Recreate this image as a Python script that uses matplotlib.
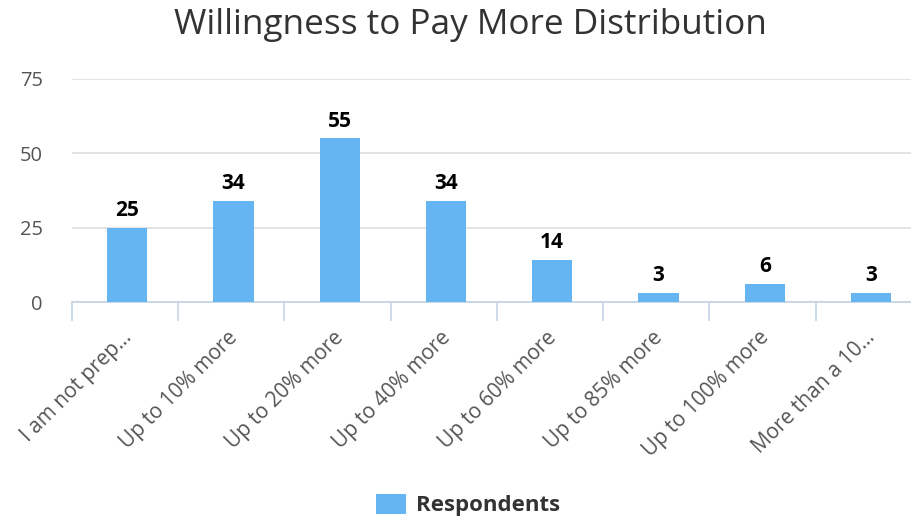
import numpy as np
import matplotlib.pyplot as plt
from matplotlib.patches import Patch

categories = ["I am not prep…", "Up to 10% more", "Up to 20% more", "Up to 40% more",
              "Up to 60% more", "Up to 85% more", "Up to 100% more", "More than a 10…"]
respondents = [25, 34, 55, 34, 14, 3, 6, 3]
y_ticks = [0, 25, 50, 75]

bar_color = "#64b5f1"
plt.rcParams["font.family"] = ["Open Sans", "DejaVu Sans"]

fig = plt.figure(figsize=(9.12, 5.19), dpi=100)
ax = fig.add_axes([72 / 912, 1 - 302 / 519, 850 / 912, 223 / 519])

x = np.arange(len(categories))
ax.bar(x + 0.02, respondents, width=0.38, color=bar_color, zorder=3)
for xi, v in zip(x, respondents):
    ax.text(xi + 0.02, v + 4.0, str(v), ha="center", va="baseline", fontsize=15,
            fontweight="bold", color="#000000")

ax.set_xlim(-0.5, len(categories) - 0.5)
ax.set_ylim(0, 75)
ax.set_yticks(y_ticks)
ax.tick_params(axis="y", length=0, pad=21, labelsize=14.5, labelcolor="#555555")
ax.grid(axis="y", color="#e0e0e0", linewidth=1.3, zorder=0)

ax.set_xticks(x - 0.04)
ax.set_xticklabels(categories, rotation=45, ha="right", rotation_mode="anchor",
                   fontsize=15, color="#555555")
ax.set_xticks(np.arange(-0.5, len(categories), 1.0), minor=True)
ax.tick_params(axis="x", which="major", length=0, pad=18)
ax.tick_params(axis="x", which="minor", length=14, width=1.2, color="#c6d4e4")

for side in ["top", "right", "left"]:
    ax.spines[side].set_visible(False)
ax.spines["bottom"].set_color("#c6d4e4")
ax.spines["bottom"].set_linewidth(1.3)

fig.text(470 / 912, 1 - 25 / 519, "Willingness to Pay More Distribution", ha="center",
         va="center", fontsize=25.3, color="#333333")

fig.legend(handles=[Patch(facecolor=bar_color, label="Respondents")],
           loc="center", bbox_to_anchor=(468 / 912, 1 - 505 / 519), frameon=False,
           prop={"size": 16, "weight": "bold"}, labelcolor="#333333",
           handlelength=1.35, handleheight=1.0, handletextpad=0.45)

fig.savefig("out.png", dpi=100)
